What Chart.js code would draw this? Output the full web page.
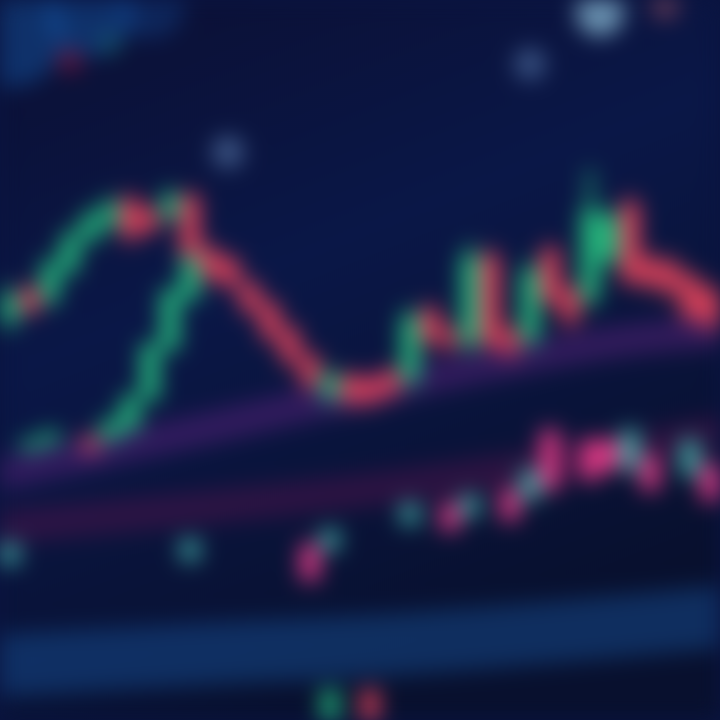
<!DOCTYPE html>
<html>
<head>
<meta charset="utf-8">
<script src="https://cdn.jsdelivr.net/npm/chart.js@4/dist/chart.umd.min.js"></script>
<style>
  html, body { margin: 0; padding: 0; background: #0a1440; }
  #wrap { width: 720px; height: 720px; overflow: hidden; background: #0a1440; }
  #market { filter: blur(11px); }
</style>
</head>
<body>
<div id="wrap"><canvas id="market" width="720" height="720"></canvas></div>
<script>
// upper candles (price units)
const upperOpen  = [100, 107.5, 105, 112.5, 120, 124, 130, 127, 126, 131, 117.5, 115, 109, 104, 97.5, 91, 81, 86, 85, 87, 85, 102.5, 97, 94, 116, 97, 95, 117.5, 107.5, 105, 115, 129, 115, 114, 111, 107.5];
const upperClose = [106, 102.5, 114, 121, 126, 129, 121, 123, 131, 116, 111, 109, 102.5, 96, 90, 84, 86, 80, 80, 82, 101, 95, 94, 116, 94, 92.5, 112.5, 105, 100, 127.5, 126, 110, 109, 107.5, 101, 99];
const upperHigh  = [109, 109, 116, 123, 128, 131, 131.5, 129, 133, 132, 119, 116, 110, 105, 99, 92, 88, 87, 86, 88, 103, 104, 99, 119, 118, 99, 115, 119, 109, 137.5, 128, 131, 117, 116, 112, 109];
const upperLow   = [97, 101, 103, 111, 119, 122, 119, 121, 124, 114, 109, 107, 101, 94, 88, 82, 79, 78, 78, 80, 83, 93, 92, 92, 92, 90, 93, 103, 98, 103, 113, 108, 107, 105, 99, 97];

// rising leg on the left
const legSlots = [1, 2, 4, 5, 6, 7, 8, 9];
const legOpen  = [67.5, 69, 71, 70, 72.5, 80, 92.5, 105];
const legClose = [70, 72, 67, 75, 81, 94, 107.5, 120];

// lower row of candles
const lowSlots = [0, 9, 15, 16, 20, 22, 23, 25, 26, 27, 29, 30, 31, 32, 34, 35];
const lowOpen  = [39, 40, 44, 42.5, 49, 54, 51, 57.5, 55, 72.5, 70, 70, 62.5, 66, 61, 64];
const lowClose = [44, 45, 35, 47.5, 54, 47.5, 56, 50, 62.5, 57.5, 60, 62.5, 72.5, 57.5, 70, 55];

// bottom edge candles
const bottomSlots = [16, 18];
const bottomOpen  = [0, 7.5];
const bottomClose = [7.5, 0];

// moving average bands
const bandX      = [-1, 9.5, 19.5, 29.5, 36];
const purpleBand = [61, 72.5, 84, 94, 97.5];
const maroonBand = [48, 53, 58.5, 66, 72.5];
const blueBand   = [13.5, 16.5, 19, 23, 26];

// bokeh highlights
const glowX = [29.5, 26, 10.9, 32.75, 3, 5, 0, 4, 7];
const glowY = [177, 164, 142, 179, 165, 169, 172, 177, 179];
const glowR = [24, 16, 16, 14, 12, 10, 55, 45, 35];
const glowC = ['rgba(140,190,215,0.75)', 'rgba(100,140,190,0.5)', 'rgba(110,150,200,0.5)', 'rgba(200,100,110,0.55)',
               'rgba(140,20,60,0.7)', 'rgba(30,130,70,0.6)', 'rgba(20,90,170,0.45)', 'rgba(20,90,170,0.45)', 'rgba(20,80,160,0.35)'];

const UP = '#25b87c', DOWN = '#e2435a', TEAL = '#3fa6a0', PINK = '#e33a86';

function candleSets(slots, open, close, high, low, up, down, thick) {
  const body = slots.map((s, i) => ({ x: s, y: [open[i], close[i]] }));
  const cols = slots.map((s, i) => close[i] >= open[i] ? up : down);
  const sets = [{
    type: 'bar', data: body, backgroundColor: cols, grouped: false,
    barThickness: thick, borderWidth: 0, order: 2
  }];
  if (high) {
    sets.push({
      type: 'bar', data: slots.map((s, i) => ({ x: s, y: [low[i], high[i]] })),
      backgroundColor: cols, grouped: false, barThickness: 5, borderWidth: 0, order: 3
    });
  }
  return sets;
}

function band(vals, color, w) {
  return {
    type: 'line', data: bandX.map((x, i) => ({ x: x, y: vals[i] })),
    borderColor: color, borderWidth: w, tension: 0.4, pointRadius: 0,
    borderCapStyle: 'butt', fill: false, order: 5, clip: false
  };
}

const upperSlots = upperOpen.map((v, i) => i);

const bg = {
  id: 'bg',
  beforeDraw(chart) {
    const { ctx, width, height } = chart;
    const g = ctx.createLinearGradient(0, 0, width * 0.4, height);
    g.addColorStop(0, '#0b0f33');
    g.addColorStop(0.45, '#0a1747');
    g.addColorStop(1, '#08102e');
    ctx.save();
    ctx.fillStyle = g;
    ctx.fillRect(0, 0, width, height);
    ctx.restore();
  }
};

new Chart(document.getElementById('market'), {
  type: 'bar',
  data: {
    datasets: [
      band(blueBand, 'rgba(25,85,155,0.45)', 62),
      band(maroonBand, 'rgba(80,20,75,0.5)', 34),
      band(purpleBand, 'rgba(100,35,130,0.45)', 32),
      ...candleSets(upperSlots, upperOpen, upperClose, upperHigh, upperLow, UP, DOWN, 18),
      ...candleSets(legSlots, legOpen, legClose, null, null, UP, '#c8466a', 18),
      ...candleSets(lowSlots, lowOpen, lowClose, null, null, TEAL, PINK, 18),
      ...candleSets(bottomSlots, bottomOpen, bottomClose, null, null, UP, DOWN, 16),
      {
        type: 'scatter', data: glowX.map((x, i) => ({ x: x, y: glowY[i] })),
        pointRadius: glowR, backgroundColor: glowC, borderWidth: 0, order: 6, clip: false
      }
    ]
  },
  options: {
    responsive: false,
    devicePixelRatio: 1,
    animation: false,
    layout: { padding: 0, autoPadding: false },
    plugins: { legend: { display: false }, tooltip: { enabled: false } },
    scales: {
      x: { type: 'linear', min: -0.5, max: 35.5, offset: false, display: false },
      y: { min: 0, max: 180, display: false }
    }
  },
  plugins: [bg]
});
</script>
</body>
</html>
